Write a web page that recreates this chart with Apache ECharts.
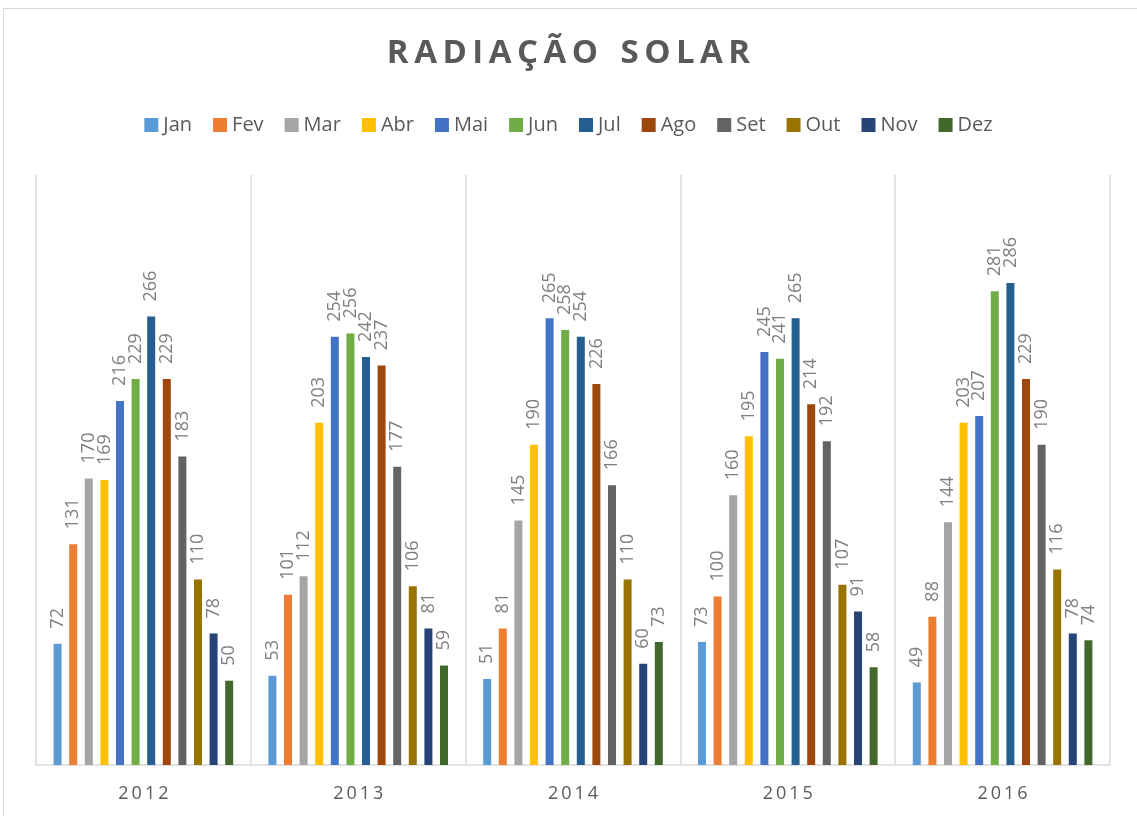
<!DOCTYPE html>
<html>
<head>
<meta charset="utf-8">
<script src="https://cdn.jsdelivr.net/npm/echarts@6/dist/echarts.min.js"></script>
<style>
  html, body { margin: 0; padding: 0; background: #fff; }
  #frame { position: absolute; left: 3px; top: 8px; width: 1140px; height: 820px; border: 1px solid #d9d9d9; }
  #chart { position: absolute; left: 0; top: 0; width: 1137px; height: 816px; }
</style>
</head>
<body>
<div id="frame"></div>
<div id="chart"></div>
<script>
// Radiação solar mensal por ano
const anos = ['2012', '2013', '2014', '2015', '2016'];
const meses = ['Jan', 'Fev', 'Mar', 'Abr', 'Mai', 'Jun', 'Jul', 'Ago', 'Set', 'Out', 'Nov', 'Dez'];
const cores = ['#5B9BD5', '#ED7D31', '#A5A5A5', '#FFC000', '#4472C4', '#70AD47',
               '#255E91', '#9E480E', '#636363', '#997300', '#264478', '#43682B'];

// valores por mês, um por ano (2012..2016)
const jan = [72, 53, 51, 73, 49];
const fev = [131, 101, 81, 100, 88];
const mar = [170, 112, 145, 160, 144];
const abr = [169, 203, 190, 195, 203];
const mai = [216, 254, 265, 245, 207];
const jun = [229, 256, 258, 241, 281];
const jul = [266, 242, 254, 265, 286];
const ago = [229, 237, 226, 214, 229];
const set = [183, 177, 166, 192, 190];
const out = [110, 106, 110, 107, 116];
const nov = [78, 81, 60, 91, 78];
const dez = [50, 59, 73, 58, 74];

const valores = [jan, fev, mar, abr, mai, jun, jul, ago, set, out, nov, dez];

const chart = echarts.init(document.getElementById('chart'));

const series = meses.map((m, i) => ({
    name: m,
    type: 'bar',
    data: valores[i],
    barWidth: 8,
    barGap: '95%',
    itemStyle: { color: cores[i] },
    label: {
        show: true,
        position: 'top',
        rotate: 90,
        align: 'left',
        verticalAlign: 'middle',
        distance: 15,
        color: '#7f7f7f',
        fontSize: 18,
        fontFamily: 'Open Sans'
    }
}));

chart.setOption({
    animation: false,
    title: {
        text: 'R A D I A Ç Ã O   S O L A R'.replace(/ (?! )/g, '\u2009'),
        left: 'center',
        top: 32,
        textStyle: { color: '#595959', fontSize: 33, fontWeight: 'bold', fontFamily: 'Open Sans' }
    },
    legend: {
        top: 110,
        left: 'center',
        itemWidth: 14,
        itemHeight: 14,
        itemGap: 21,
        icon: 'rect',
        textStyle: { color: '#595959', fontSize: 20, fontFamily: 'Open Sans' }
    },
    grid: { left: 36, right: 27, top: 175, bottom: 51 },
    xAxis: {
        type: 'category',
        data: anos,
        axisLine: { lineStyle: { color: '#d9d9d9', width: 1.5 } },
        axisTick: { show: false },
        splitLine: { show: true, lineStyle: { color: '#d9d9d9', width: 1.5 } },
        axisLabel: {
            color: '#595959', fontSize: 18, fontFamily: 'Open Sans', margin: 20,
            formatter: v => v.split('').join('\u2009')
        }
    },
    yAxis: {
        type: 'value',
        min: 0,
        max: 350,
        show: false,
        splitLine: { show: false }
    },
    series: series
});
</script>
</body>
</html>
